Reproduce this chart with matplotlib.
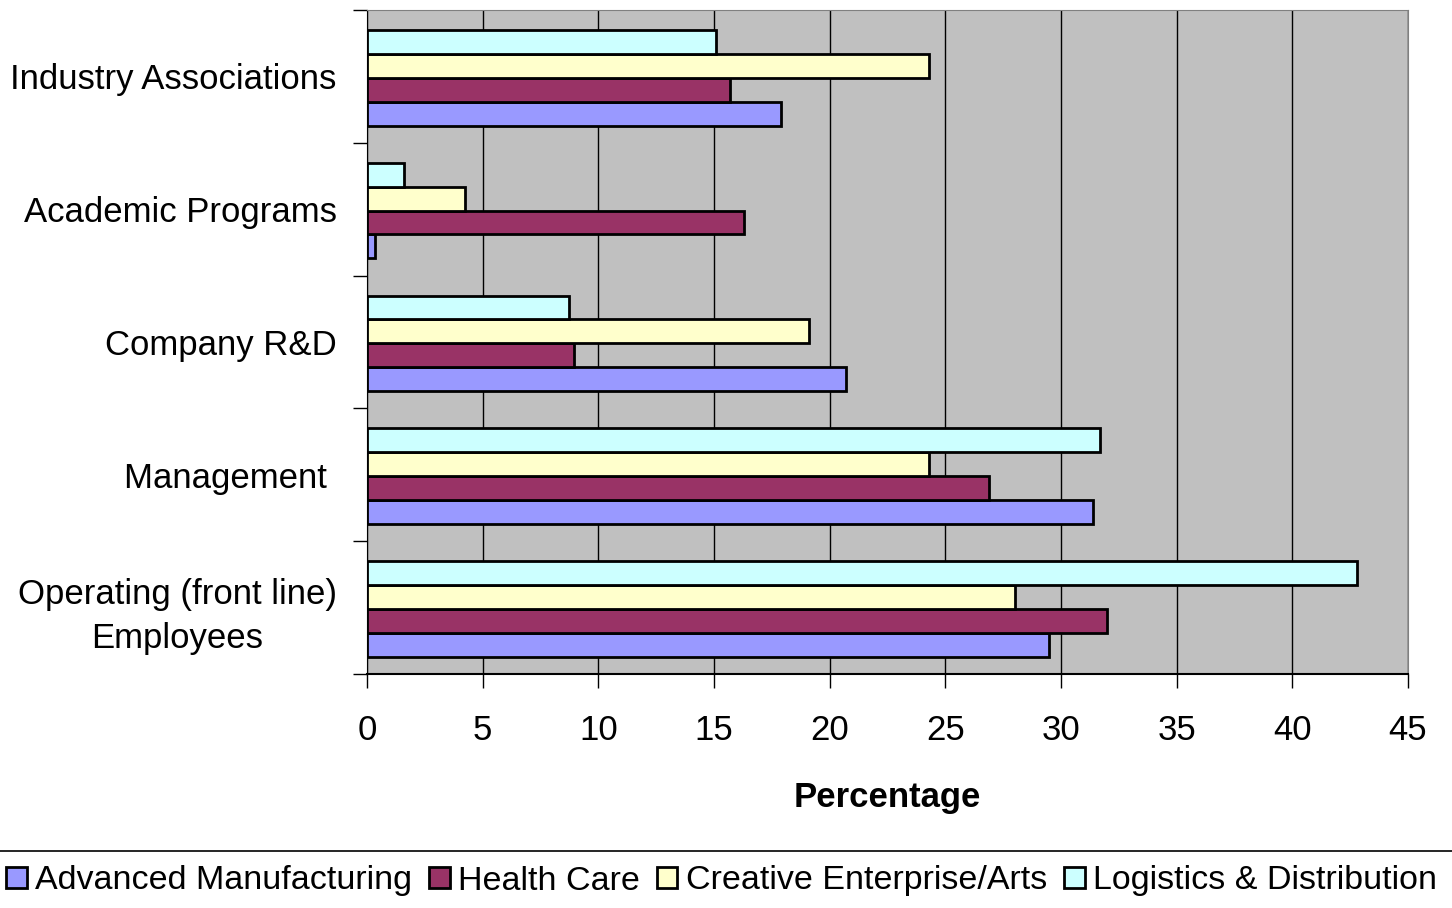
import numpy as np
import matplotlib
matplotlib.use("Agg")
import matplotlib.pyplot as plt
from matplotlib.lines import Line2D

plt.rcParams['font.family'] = ['Liberation Sans', 'DejaVu Sans']

categories = ["Operating (front line)\nEmployees", "Management ", "Company R&D",
              "Academic Programs", "Industry Associations"]
series_names = ["Advanced Manufacturing", "Health Care",
                "Creative Enterprise/Arts", "Logistics & Distribution"]
adv_manufacturing = [29.5, 31.4, 20.7, 0.35, 17.9]
health_care = [32.0, 26.9, 8.95, 16.3, 15.7]
creative_arts = [28.0, 24.3, 19.1, 4.25, 24.3]
logistics = [42.8, 31.7, 8.75, 1.6, 15.1]
xticks = [0, 5, 10, 15, 20, 25, 30, 35, 40, 45]

colors = ["#9999FF", "#993366", "#FFFFCC", "#CCFFFF"]
values = [adv_manufacturing, health_care, creative_arts, logistics]

fig = plt.figure(figsize=(14.52, 9.08), dpi=100)
ax = fig.add_axes([0.2528, 0.2577, 0.7169, 0.7313])
ax.set_facecolor("#C0C0C0")

y = np.arange(len(categories))
h = 0.18
for i, (vals, c, name) in enumerate(zip(values, colors, series_names)):
    ax.barh(y + (i - 1.5) * h - 0.01, vals, height=h, color=c,
            edgecolor="black", linewidth=2, label=name, zorder=3)

ax.set_xlim(0, 45)
ax.set_ylim(-0.5, len(categories) - 0.5)
ax.set_xticks(xticks)
ax.set_xticklabels([str(t) for t in xticks], fontsize=25)
ax.xaxis.grid(True, color="black", linewidth=1, zorder=1)
ax.set_axisbelow(True)
ax.tick_params(axis='x', length=10, width=1, pad=19)

ax.set_yticks(y)
ax.set_yticklabels(categories, fontsize=25, multialignment='center',
                   linespacing=1.4)
ax.tick_params(axis='y', which='major', length=0, pad=22)
ax.set_yticks(np.arange(-0.5, len(categories)), minor=True)
ax.tick_params(axis='y', which='minor', length=10, width=1)

for s in ["top", "right"]:
    ax.spines[s].set_color("#808080")
ax.spines["left"].set_color("black")
ax.spines["bottom"].set_color("black")
ax.spines["bottom"].set_linewidth(1.5)

ax.set_xlabel("Percentage", fontsize=25, fontweight="bold", labelpad=24)

fig.add_artist(Line2D([0, 1], [1 - 851 / 908] * 2, color="black", linewidth=1.2,
                      transform=fig.transFigure))
handles, labels = ax.get_legend_handles_labels()
fig.legend(handles, labels, loc="center", bbox_to_anchor=(0.497, 1 - 881 / 908),
           ncol=4, frameon=False, fontsize=24.5, handlelength=0.6, handleheight=0.6,
           handletextpad=0.25, columnspacing=0.5, borderaxespad=0)

fig.savefig("out.png", dpi=100)
